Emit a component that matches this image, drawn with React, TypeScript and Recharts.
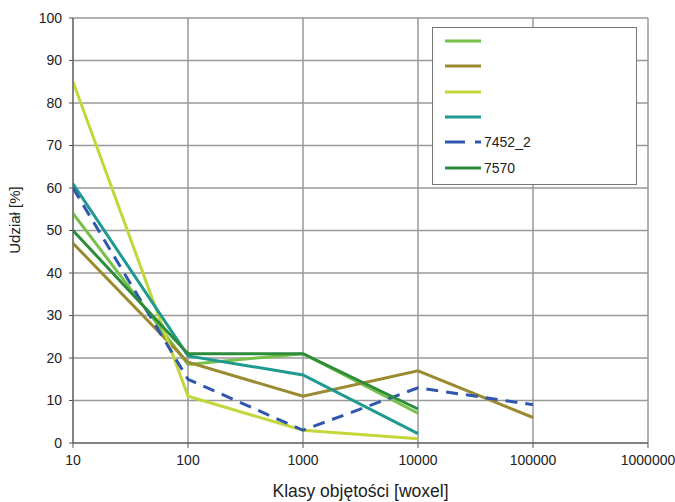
import { LineChart, Line, XAxis, YAxis, CartesianGrid } from 'recharts'

const classes = [10, 100, 1000, 10000, 100000]
const xTicks = [10, 100, 1000, 10000, 100000, 1000000]
const yTicks = [0, 10, 20, 30, 40, 50, 60, 70, 80, 90, 100]

const s1 = [54, 18.5, 21, 7]
const s2 = [47, 19, 11, 17, 6]
const s3 = [85, 11, 3, 1]
const s4 = [61, 20.5, 16, 2.2]
const s7452 = [60, 15, 3, 13, 9]
const s7570 = [50, 21, 21, 8]

const seriesNames = ['', '', '', '', '7452_2', '7570']
const seriesColors = ['#77c04a', '#9b8a30', '#c3d63a', '#1e9a90', '#2f58ac', '#2d8c3c']
const seriesValues = [s1, s2, s3, s4, s7452, s7570]

const data = classes.map((x, i) => {
  const row: Record<string, number | undefined> = { x }
  seriesValues.forEach((vals, k) => {
    row['s' + k] = vals[i]
  })
  return row
})

const font = '"Liberation Sans", Arial, sans-serif'

function LegendBox() {
  return (
    <div
      style={{
        position: 'absolute',
        left: 432,
        top: 27,
        width: 205,
        height: 158,
        border: '1px solid #777',
        background: '#fff',
        boxSizing: 'border-box',
        fontFamily: font,
        fontSize: 14,
        color: '#222',
      }}
    >
      {seriesNames.map((name, k) => (
        <div key={k} style={{ position: 'absolute', top: 13 + k * 25.3 - 8, left: 0, display: 'flex', alignItems: 'center', height: 16 }}>
          <svg width={52} height={8} style={{ marginLeft: 11 }}>
            <line
              x1={1}
              y1={4}
              x2={37}
              y2={4}
              stroke={seriesColors[k]}
              strokeWidth={3}
              strokeDasharray={k === 4 ? '20 10' : undefined}
            />
          </svg>
          <span style={{ marginLeft: -12 }}>{name}</span>
        </div>
      ))}
    </div>
  )
}

export default function App() {
  return (
    <div style={{ position: 'absolute', left: 0, top: 0, width: 675, height: 502, background: '#fff' }}>
      <LineChart
        width={675}
        height={502}
        data={data}
        margin={{ top: 18, right: 27, left: 0, bottom: 0 }}
      >
        <CartesianGrid stroke="#999" strokeWidth={1.5} />
        <XAxis
          dataKey="x"
          type="number"
          scale="log"
          domain={[10, 1000000]}
          ticks={xTicks}
          allowDataOverflow
          height={59}
          stroke="#555"
          tick={{ fill: '#222', fontSize: 14, fontFamily: font }}
          tickSize={5}
          tickMargin={7}
          label={{
            value: 'Klasy objętości [woxel]',
            position: 'insideBottom',
            offset: 5,
            fill: '#222',
            fontSize: 17.5,
            fontFamily: font,
          }}
        />
        <YAxis
          type="number"
          domain={[0, 100]}
          ticks={yTicks}
          width={73}
          stroke="#555"
          tick={{ fill: '#222', fontSize: 14, fontFamily: font }}
          tickSize={4}
          tickMargin={7}
        />
        {seriesValues.map((_, k) => (
          <Line
            key={k}
            dataKey={'s' + k}
            name={seriesNames[k] || 's' + k}
            type="linear"
            stroke={seriesColors[k]}
            strokeWidth={3}
            strokeDasharray={k === 4 ? '12 8' : undefined}
            dot={false}
            activeDot={false}
            isAnimationActive={false}
          />
        ))}
      </LineChart>
      <svg width={40} height={502} style={{ position: 'absolute', left: 0, top: 0 }}>
        <text
          x={20}
          y={220}
          transform="rotate(-90 20 220)"
          textAnchor="middle"
          fontSize={15}
          fontFamily={font}
          fill="#222"
        >
          Udział [%]
        </text>
      </svg>
      <LegendBox />
    </div>
  )
}
